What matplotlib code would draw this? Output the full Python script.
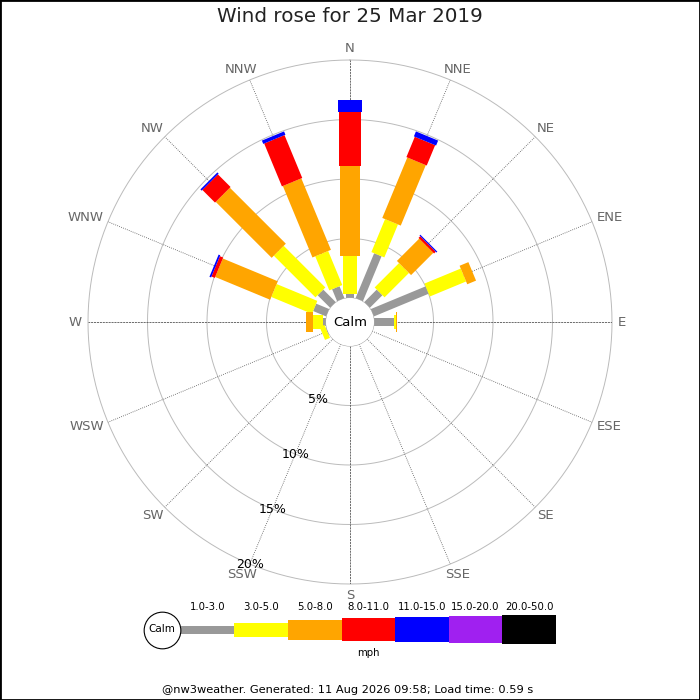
import numpy as np
import matplotlib
matplotlib.use("Agg")
import matplotlib.pyplot as plt
from matplotlib.patches import Circle, Rectangle

directions = ["N", "NNE", "NE", "ENE", "E", "ESE", "SE", "SSE",
              "S", "SSW", "SW", "WSW", "W", "WNW", "NW", "NNW"]
speed_bins = ["1.0-3.0", "3.0-5.0", "5.0-8.0", "8.0-11.0",
              "11.0-15.0", "15.0-20.0", "20.0-50.0"]

# percent of time per direction, one list per speed bin (mph)
freq_1_3 = [0.3, 4.1, 1.5, 5.0, 1.65, 0, 0, 0, 0, 0, 0, 0.05, 0.25, 1.2, 1.5, 1.1]
freq_3_5 = [3.27, 3.0, 2.9, 3.3, 0.2, 0, 0, 0, 0, 0, 0, 0.45, 0.85, 3.7, 4.95, 3.1]
freq_5_8 = [7.53, 5.5, 2.65, 0.8, 0.12, 0, 0, 0, 0, 0, 0, 0, 0.55, 5.0, 6.65, 6.5]
freq_8_11 = [4.5, 1.85, 0.2, 0, 0, 0, 0, 0, 0, 0, 0, 0, 0, 0.3, 1.5, 3.9]
freq_11_15 = [1.0, 0.45, 0.1, 0, 0, 0, 0, 0, 0, 0, 0, 0, 0, 0.15, 0.15, 0.3]
freq_15_20 = [0] * 16
freq_20_50 = [0] * 16

ring_values = [5, 10, 15, 20]

colors = ["#999999", "#ffff00", "#ffa500", "#ff0000", "#0000ff", "#a020f0", "#000000"]
widths_px = [8, 14, 20, 22, 24, 26, 28]
legend_heights = [8, 14, 20, 23, 25, 27, 29]

fig = plt.figure(figsize=(7, 7), dpi=100)
fig.patches.append(Rectangle((0, 0), 1, 1, transform=fig.transFigure,
                             fill=False, ec="black", lw=2))

fig.text(0.5, 1 - 17 / 700, "Wind rose for 25 Mar 2019", ha="center", va="center",
         fontsize=14.3, color="#222222")

ax = fig.add_axes([88 / 700, 116 / 700, 524 / 700, 524 / 700], projection="polar")
ax.set_theta_zero_location("N")
ax.set_theta_direction(-1)
ax.set_ylim(0, 20)
ax.set_rorigin(-2.017)
ax.axis("off")

theta = np.deg2rad(np.arange(16) * 22.5)
circle_t = np.linspace(0, 2 * np.pi, 361)

for r in ring_values:
    ax.plot(circle_t, [r] * len(circle_t), color="#bbbbbb", lw=0.7, zorder=1,
            clip_on=False)

dir_texts = []
for i, th in enumerate(theta):
    ls = (0, (2.5, 1)) if i % 4 == 0 else (0, (1, 1.5))
    ax.plot([th, th], [0, 20], color="#555555", lw=0.6, ls=ls, zorder=1)
    t = ax.annotate(directions[i], xy=(th, 20.5), xytext=(0, 0), textcoords="offset points",
                    ha="center", va="center", fontsize=9.5, color="#666666",
                    annotation_clip=False)
    dir_texts.append((t, th))

ring_t = np.deg2rad(202.5)
for r in ring_values:
    ax.text(ring_t, r, f"{r}%", ha="center", va="center", fontsize=9, color="black", zorder=5)

series = [freq_1_3, freq_3_5, freq_5_8, freq_8_11, freq_11_15, freq_15_20, freq_20_50]
base = np.zeros(16)
for vals, col, w in zip(series, colors, widths_px):
    vals = np.array(vals, dtype=float)
    for th, b, v in zip(theta, base, vals):
        if v > 0:
            ax.plot([th, th], [b, b + v], color=col, lw=w * 0.72,
                    solid_capstyle="butt", zorder=3)
    base = base + vals

ax.add_patch(Circle((0.5, 0.5), 24 / 524, transform=ax.transAxes,
                    fc="white", ec="#aaaaaa", lw=0.8, zorder=4))
ax.text(0.5, 0.5, "Calm", transform=ax.transAxes, ha="center", va="center",
        fontsize=9.5, zorder=5)

# legend strip
lax = fig.add_axes([180.7 / 700, 55 / 700, 375.3 / 700, 31 / 700])
lax.set_xlim(0, 7)
lax.set_ylim(-15.5, 15.5)
lax.axis("off")
h = np.array(legend_heights, dtype=float)
lax.bar(np.arange(7), h, bottom=-h / 2, width=1, align="edge", color=colors)
for i, lab in enumerate(speed_bins):
    lax.text(i + 0.5, 22.8, lab, ha="center", va="center", fontsize=7.3, clip_on=False)
lax.text(3.5, -23.5, "mph", ha="center", va="center", fontsize=7.3, clip_on=False)
lax.plot([-0.343], [0], marker="o", ms=26.4, mfc="white", mec="black", mew=0.8,
         clip_on=False)
lax.text(-0.343, 0, "Calm", ha="center", va="center", fontsize=7.5, clip_on=False)

fig.text(348 / 700, 1 - 690 / 700,
         "@nw3weather. Generated: 11 Aug 2026 09:58; Load time: 0.59 s",
         ha="center", va="center", fontsize=8.2)

# push direction labels outward by half their box size
fig.canvas.draw()
for t, th in dir_texts:
    bb = t.get_window_extent()
    t.xyann = (bb.width / 2 * np.sin(th) * 0.72, bb.height * 0.4 * np.cos(th) * 0.72)

fig.savefig("out.png", dpi=100)
